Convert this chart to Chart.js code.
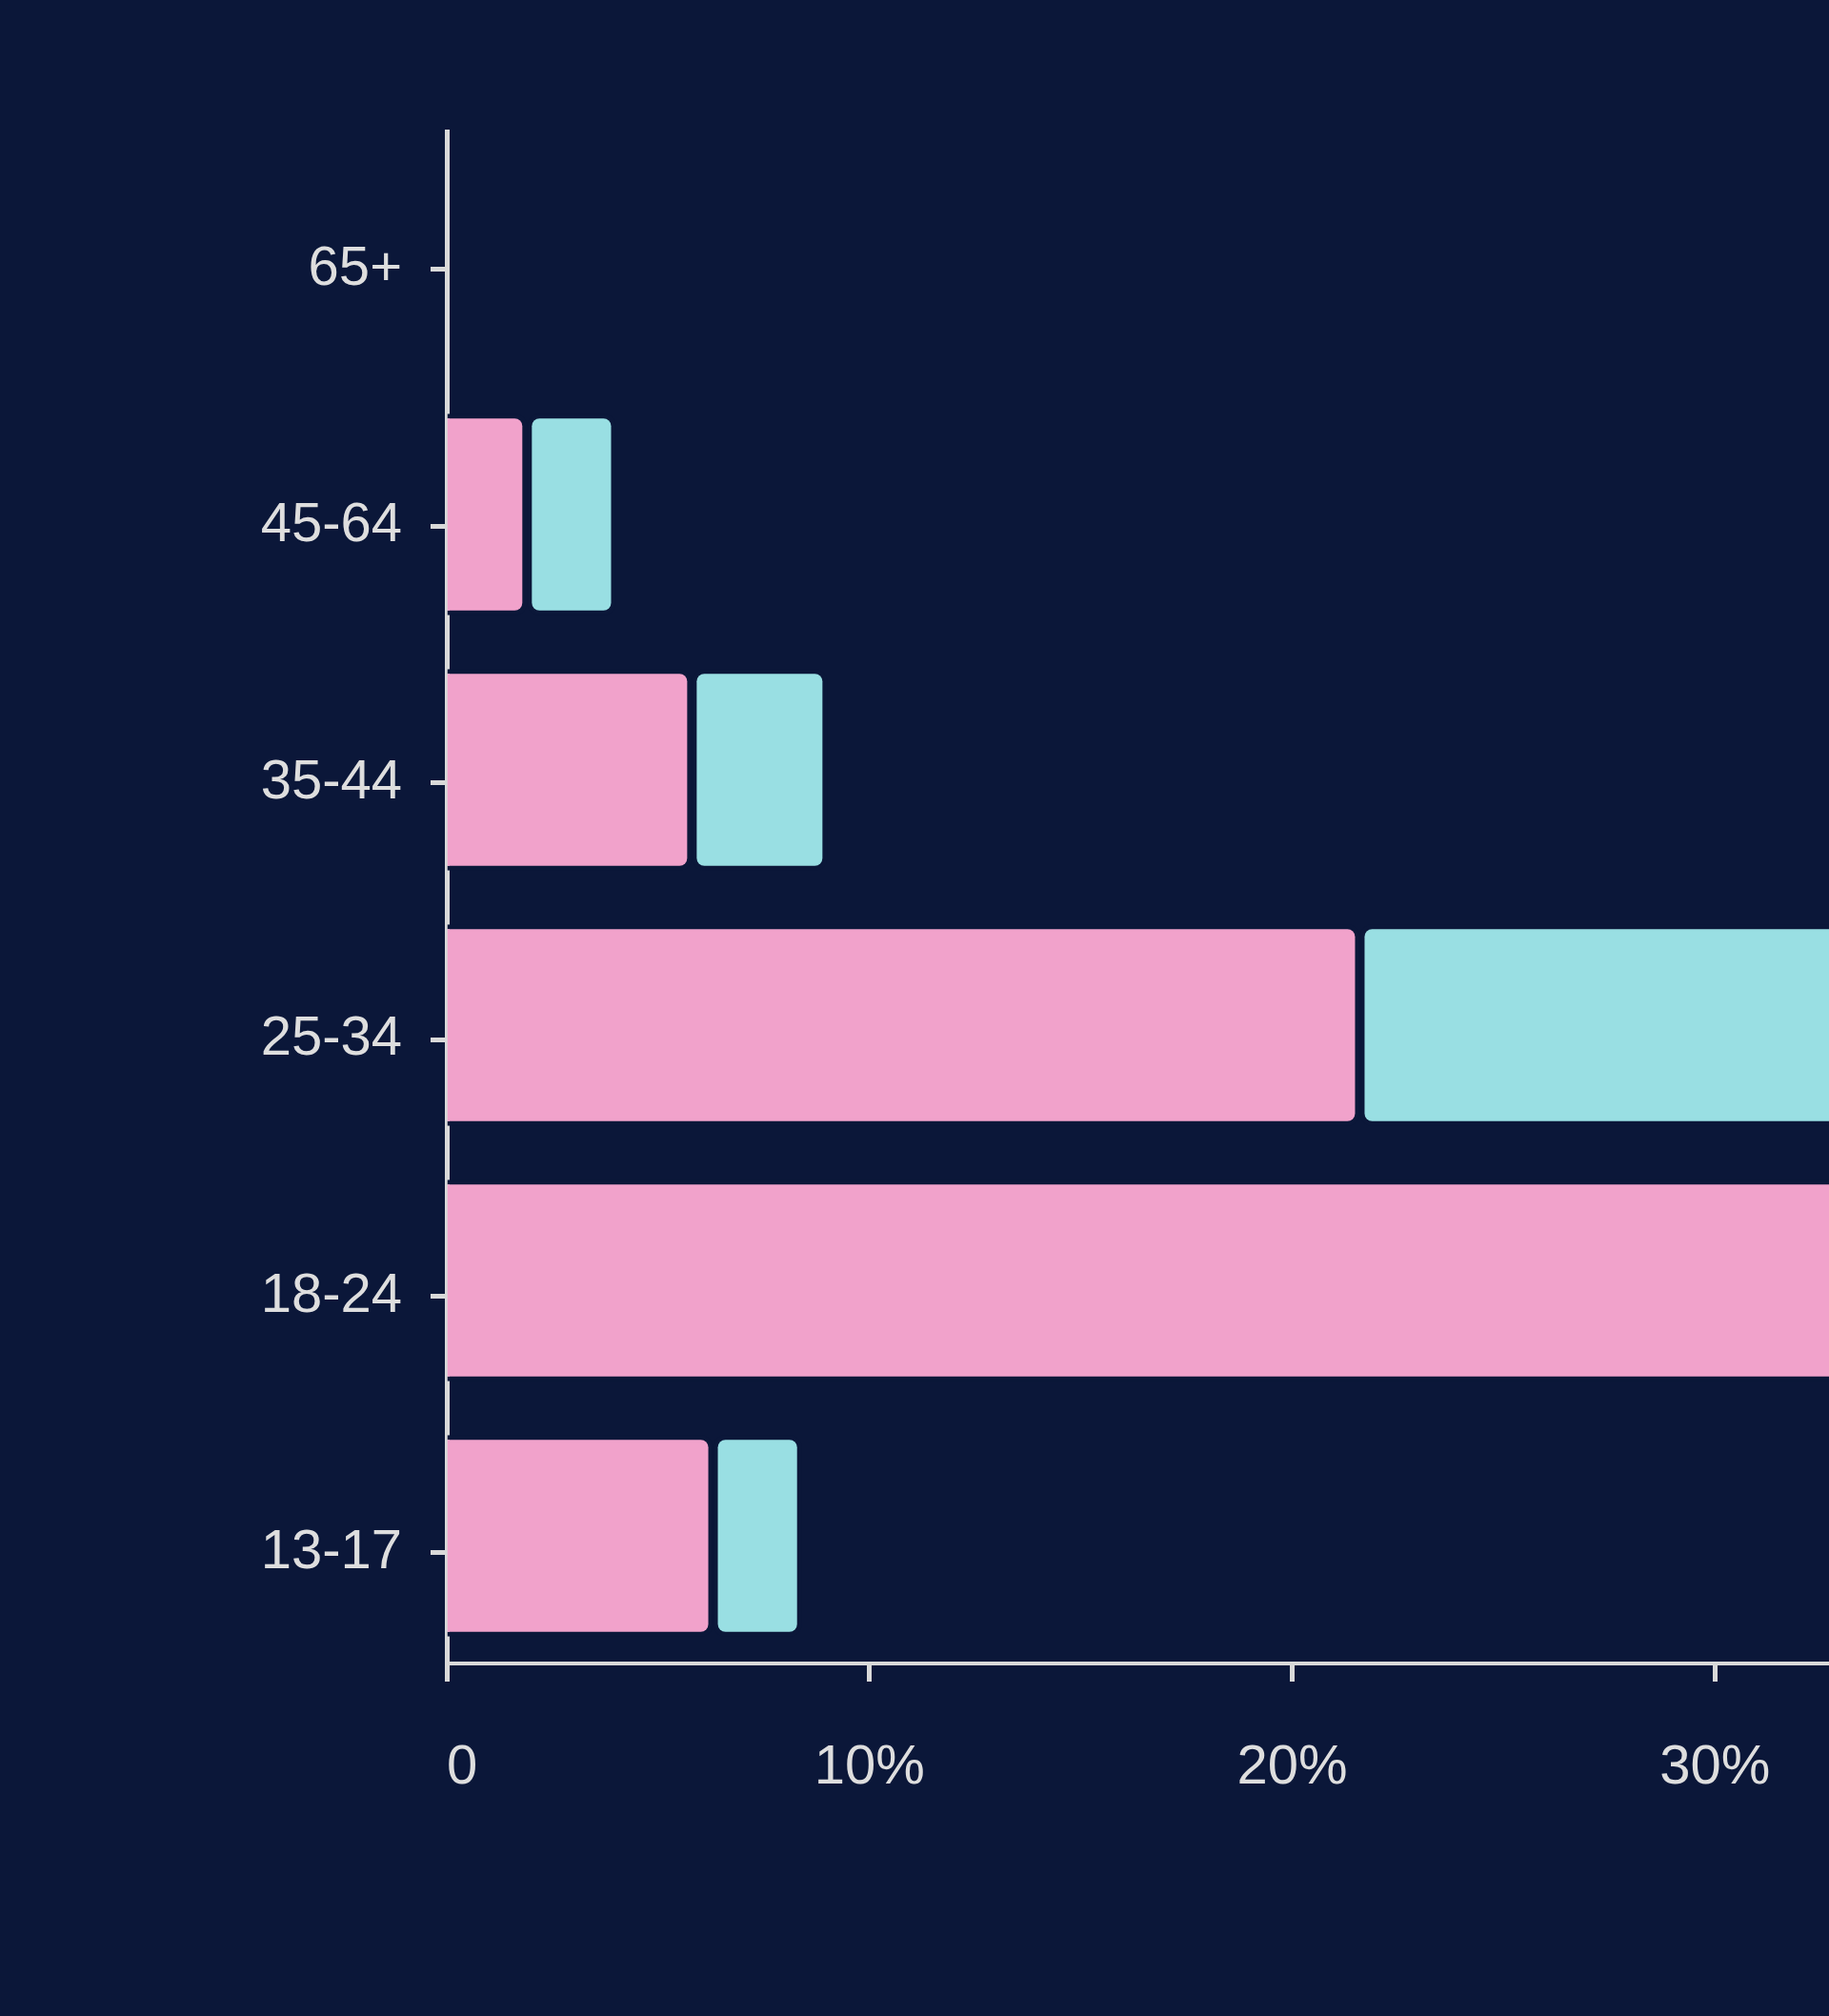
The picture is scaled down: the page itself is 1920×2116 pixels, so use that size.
<!DOCTYPE html>
<html>
<head>
<meta charset="utf-8">
<script src="https://cdn.jsdelivr.net/npm/chart.js@4.4.1/dist/chart.umd.min.js"></script>
<style>
    html, body { margin: 0; padding: 0; background: #0b1739; overflow: hidden; }
    #wrap { width: 1920px; height: 2116px; position: relative; }
    canvas { display: block; }
</style>
</head>
<body>
<div id="wrap"><canvas id="ageChart"></canvas></div>
<script>
// Age groups, top to bottom
const ageGroups = ["65+", "45-64", "35-44", "25-34", "18-24", "13-17"];

// Share of audience (%) per group
const pinkShare = [0, 1.9, 5.8, 21.6, 35.5, 6.3];
const tealShare = [0, 2.1, 3.2, 13.0, 8.5, 2.1];

// X axis ticks
const xTicks = [0, 10, 20, 30];
const xMax = 32.7;

const bg = '#0b1739';
const axisColor = '#d9d9d9';
const textColor = '#dedede';
const fontFamily = "'Liberation Sans', Arial, sans-serif";

let ctx = document.getElementById("ageChart").getContext("2d");
new Chart(ctx, {
    type: 'bar',
    data: {
        labels: ageGroups,
        datasets: [{
            label: "Pink",
            data: pinkShare,
            backgroundColor: '#f1a2cb',
            borderColor: bg,
            borderWidth: 5,
            borderSkipped: 'start',
            borderRadius: {topLeft: 0, bottomLeft: 0, topRight: 13, bottomRight: 13},
            xAxisID: 'x',
            yAxisID: 'y'
        }, {
            label: "Teal",
            data: tealShare,
            backgroundColor: '#99dfe3',
            borderColor: bg,
            borderWidth: 5,
            borderSkipped: false,
            borderRadius: {topLeft: 13, bottomLeft: 13, topRight: 13, bottomRight: 13},
            xAxisID: 'x',
            yAxisID: 'y'
        }]
    },
    options: {
        indexAxis: 'y',
        responsive: true,
        maintainAspectRatio: false,
        animation: false,
        layout: {padding: {top: 138, right: 0, bottom: 0, left: 0}},
        categoryPercentage: 0.79,
        barPercentage: 1,
        plugins: {legend: {display: false}, tooltip: {enabled: false}},
        scales: {
            x: {
                type: 'linear',
                stacked: true,
                min: 0,
                max: xMax,
                z: 1,
                afterBuildTicks: axis => { axis.ticks = xTicks.concat([xMax]).map(v => ({value: v})); },
                afterFit: axis => { axis.height = 370; },
                grid: {
                    drawOnChartArea: false,
                    tickLength: 19,
                    tickWidth: 5,
                    color: c => (c.tick && c.tick.value === xMax) ? 'rgba(0,0,0,0)' : axisColor
                },
                border: {display: true, color: axisColor, width: 4},
                ticks: {
                    autoSkip: false,
                    maxRotation: 0,
                    align: 'inner',
                    // padding 0 so no right gap; tall line height pushes labels down instead
                    padding: 0,
                    color: textColor,
                    font: {family: fontFamily, size: 58, lineHeight: 3.14},
                    callback: v => v === 0 ? '0' : (v === xMax ? '' : v + '%')
                }
            },
            // bars sit on this one
            y: {
                type: 'category',
                stacked: true,
                display: false
            },
            // visible age axis (labels/ticks sit a little lower than the bars in the original)
            ylab: {
                type: 'linear',
                position: 'left',
                reverse: true,
                offset: false,
                min: -0.538,
                max: 5.431,
                z: 1,
                afterBuildTicks: axis => { axis.ticks = ageGroups.map((g, i) => ({value: i})); },
                afterFit: axis => { axis.width = 469; },
                grid: {offset: false, drawOnChartArea: false, tickLength: 17, tickWidth: 5, color: axisColor},
                border: {display: true, color: axisColor, width: 5},
                ticks: {
                    autoSkip: false,
                    padding: 30,
                    color: textColor,
                    font: {family: fontFamily, size: 58},
                    callback: v => ageGroups[v]
                }
            }
        }
    }
});
</script>
</body>
</html>
